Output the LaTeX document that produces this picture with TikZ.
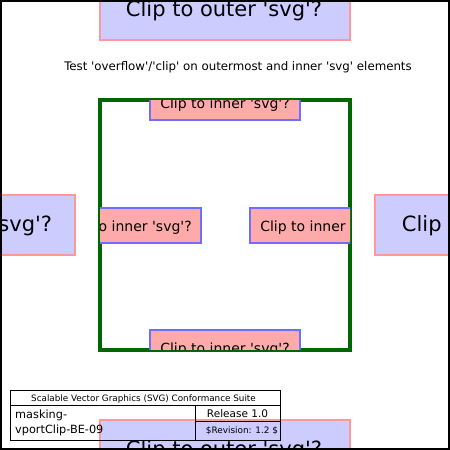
\documentclass[tikz,border=0pt]{standalone}
\usepackage{fontspec}
\setmainfont{DejaVu Sans}[Ligatures=TeXOff]
\definecolor{outerfill}{RGB}{204,204,255}
\definecolor{outerstroke}{RGB}{255,153,153}
\definecolor{innerfill}{RGB}{255,170,170}
\definecolor{innerstroke}{RGB}{110,110,255}
\definecolor{frameg}{RGB}{0,102,0}
\tikzset{
  outerbox/.style={fill=outerfill, draw=outerstroke, line width=2pt},
  innerbox/.style={fill=innerfill, draw=innerstroke, line width=2pt},
  bigtext/.style={inner sep=0pt, anchor=base, font=\fontsize{21}{25}\selectfont},
  smalltext/.style={inner sep=0pt, anchor=base, font=\fontsize{14}{17}\selectfont},
  legline/.style={draw=black, line width=1pt},
}
\begin{document}
\begin{tikzpicture}[x=1pt,y=-1pt]
\useasboundingbox (0,0) rectangle (450,450);
\clip (0,0) rectangle (450,450);
% outer boxes
\path[outerbox] (100,-20) rectangle (350,40);
\node[bigtext] (ot) at (224,16) {Clip to outer 'svg'?};
\path[outerbox] (-175,195) rectangle (75,255);
\node[bigtext] (ol) at (-46,231) {Clip to outer 'svg'?};
\path[outerbox] (375,195) rectangle (625,255);
\node[bigtext] (or) at (500,231) {Clip to outer 'svg'?};
\path[outerbox] (100,420) rectangle (350,480);
\node[bigtext] (ob) at (224,456) {Clip to outer 'svg'?};
% title
\node[inner sep=0pt, anchor=base, font=\fontsize{11.8}{14}\selectfont] (title) at (238,70) {Test 'overflow'/'clip' on outermost and inner 'svg' elements};
% green frame
\draw[draw=frameg, line width=4.5pt] (100,100) rectangle (350,350);
% inner svg content
\begin{scope}
\clip (100,100) rectangle (350,349);
\path[innerbox] (150,85) rectangle (300,120);
\node[smalltext] (it) at (225,108) {Clip to inner 'svg'?};
\path[innerbox] (51,207.5) rectangle (201,243);
\node[smalltext] (il) at (127,231) {Clip to inner 'svg'?};
\path[innerbox] (250,207.5) rectangle (400,243);
\node[smalltext] (ir) at (325,231) {Clip to inner 'svg'?};
\path[innerbox] (150,330) rectangle (300,365);
\node[smalltext] (ib) at (225,353) {Clip to inner 'svg'?};
\end{scope}
% legend
\draw[legline] (10,390) rectangle (280,440);
\draw[legline] (10,405) -- (280,405);
\draw[legline] (195,405) -- (195,440);
\draw[legline] (195,421.5) -- (280,421.5);
\node[inner sep=0pt, anchor=base, font=\fontsize{8.8}{10}\selectfont] (lt) at (143.5,401) {Scalable Vector Graphics (SVG) Conformance Suite};
\node[inner sep=0pt, anchor=base west, font=\fontsize{11.3}{13}\selectfont] (ln1) at (15,418) {masking-};
\node[inner sep=0pt, anchor=base west, font=\fontsize{11.3}{13}\selectfont] (ln2) at (15,433) {vportClip-BE-09};
\node[inner sep=0pt, anchor=base, font=\fontsize{10.5}{12}\selectfont] (rel) at (237.5,417) {Release 1.0};
\node[inner sep=0pt, anchor=base, font=\fontsize{8.9}{10}\selectfont] (rev) at (242,433.5) {\$Revision: 1.2 \$};
% outer frame
\draw[draw=black, line width=1.2pt] (1,1) rectangle (449,449);
\end{tikzpicture}
\end{document}
